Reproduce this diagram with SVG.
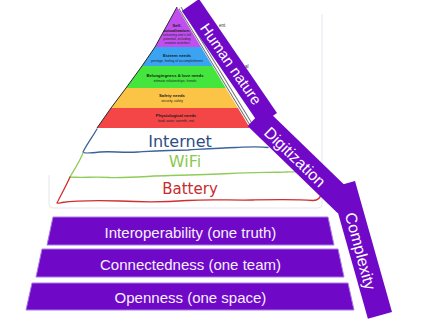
<svg xmlns="http://www.w3.org/2000/svg" width="437" height="334" viewBox="0 0 437 334">
<style>
.tiny-b{font-family:"Liberation Sans",Arial,sans-serif;font-weight:bold;font-size:4.2px;fill:#1a1a1a;text-anchor:middle}
.tiny{font-family:"Liberation Sans",Arial,sans-serif;font-size:3.3px;fill:#222;text-anchor:middle}
.hand{font-family:"DejaVu Sans",sans-serif;text-anchor:middle}
.band{fill:#7008c8}
.band-t{font-family:"Liberation Sans",Arial,sans-serif;fill:#fff;text-anchor:middle}
.found{fill:#7008c8;stroke:#a67be6;stroke-width:1}
.found-t{font-family:"Liberation Sans",Arial,sans-serif;font-size:15px;fill:#f6f0ff;text-anchor:middle}
.sketch{fill:none;stroke-width:1.3;stroke-linecap:round;stroke-linejoin:round}
</style>
<rect width="437" height="334" fill="#fff"/>

<!-- faint frame of the sketched picture -->
<path d="M322,14 V204 Q322,208 318,208 H53 Q49,208 49,204 V175" fill="none" stroke="#e6e6ee" stroke-width="1"/>

<!-- Maslow pyramid -->
<g id="maslow-pyramid">
  <g id="self-actualization">
    <polygon points="177,7 201.1,47 155,47" fill="#c14ff0"/>
    <text class="tiny-b" x="177" y="26.5">Self-</text>
    <text class="tiny-b" x="177" y="31.5">actualization:</text>
    <text class="tiny" x="177" y="35.6">achieving one's full</text>
    <text class="tiny" x="177" y="39.6">potential, including</text>
    <text class="tiny" x="177" y="43.6">creative activities</text>
  </g>
  <g id="esteem">
    <polygon points="155,47 201.1,47 212.6,66 142,66" fill="#3aa3f2"/>
    <text class="tiny-b" x="177" y="57">Esteem needs</text>
    <text class="tiny" x="177" y="62.3">prestige, feeling of accomplishment</text>
  </g>
  <g id="belonging">
    <polygon points="142,66 212.6,66 225.8,88 126,88" fill="#44e63e"/>
    <text class="tiny-b" x="175" y="77">Belongingness &amp; love needs</text>
    <text class="tiny" x="175" y="82.3">intimate relationships, friends</text>
  </g>
  <g id="safety">
    <polygon points="126,88 225.8,88 237.9,108 111,108" fill="#fcc447"/>
    <text class="tiny-b" x="172" y="96.6">Safety needs</text>
    <text class="tiny" x="172" y="102.4">security, safety</text>
  </g>
  <g id="physiological">
    <polygon points="111,108 237.9,108 250,128 97,128" fill="#f44646"/>
    <text class="tiny-b" x="176" y="116.6">Physiological needs</text>
    <text class="tiny" x="176" y="122.2">food, water, warmth, rest</text>
  </g>
  <polyline points="177,7 155,47 142,66 126,88 111,108 97,128" fill="none" stroke="#2a2a2a" stroke-width="1"/>
  <line x1="180" y1="8" x2="252" y2="126" stroke="#6a6a6a" stroke-width="3.4"/>
  <line x1="180" y1="8" x2="252" y2="126" stroke="#ffffff" stroke-width="1.6"/>
  <text x="219" y="27" font-family="Liberation Sans,Arial,sans-serif" font-size="4.5" fill="#333">ent</text>
  <text x="245" y="67.5" font-family="Liberation Sans,Arial,sans-serif" font-size="4.5" fill="#333">al</text>
</g>

<!-- hand-drawn technology layers -->
<g id="tech-layers">
  <g id="internet">
    <path class="sketch" stroke="#3c629a" d="M97,129 C93,136 87,144 83,152 C84,154 92,153 100,152 C112,151 122,153 138,152 C155,151 170,150 188,150 C205,149 220,148 236,147.5 C248,147 258,146 268,147.5"/>
    <text class="hand" x="180" y="146.5" font-size="16" fill="#2e4d82">Internet</text>
  </g>
  <g id="wifi">
    <path class="sketch" stroke="#8fcd58" d="M83,153 C80,161 74,170 70,177 C82,178 96,176.5 110,177.5 C130,178 150,176 170,175.5 C190,175 210,174.5 230,173.5 C250,172.5 270,172.5 285,172 C292,171.5 296,172 299,172"/>
    <text class="hand" x="185" y="166.5" font-size="16" fill="#8cc84e">WiFi</text>
  </g>
  <g id="battery">
    <path class="sketch" stroke="#cf2f2f" d="M70,177 C66,186 61,195 58,201 C56,204 57,203.5 62,202.5 C80,200 100,200.5 120,201 C140,202 160,202.5 187,200.5 C210,199 232,200.5 253,200 C275,199.5 295,199 313,200.5 C318,200.5 321,197 322,192"/>
    <text class="hand" x="190" y="194" font-size="15" fill="#c62c2c">Battery</text>
  </g>
</g>

<!-- foundation layers -->
<g id="interoperability">
  <polygon class="found" points="53,217 328,217 334,245 47,245"/>
  <text class="found-t" x="190.5" y="237.5">Interoperability (one truth)</text>
</g>
<g id="connectedness">
  <polygon class="found" points="42,249 338,249 344,277 36,277"/>
  <text class="found-t" x="190.5" y="269.5">Connectedness (one team)</text>
</g>
<g id="openness">
  <polygon class="found" points="32,283 348,283 354,310 26,310"/>
  <text class="found-t" x="190.5" y="302.5">Openness (one space)</text>
</g>

<!-- diagonal bands -->
<g id="connectors">
  <g id="human-nature">
    <polygon class="band" points="199,-1 277,113 259.8,125 181.8,11"/>
    <text class="band-t" font-size="15" transform="translate(231,64) rotate(55)" y="5.3">Human nature</text>
  </g>
  <g id="digitization">
    <polygon class="band" points="265,108 354.9,194.9 337.5,212.9 247.6,126"/>
    <text class="band-t" font-size="16" transform="translate(295,157) rotate(44)" y="5.6">Digitization</text>
  </g>
  <g id="complexity">
    <polygon class="band" points="355,181 392,312 367.9,318.8 330.9,187.8"/>
    <text class="band-t" font-size="16" transform="translate(360.5,251) rotate(75)" y="5.6">Complexity</text>
  </g>
</g>
</svg>
